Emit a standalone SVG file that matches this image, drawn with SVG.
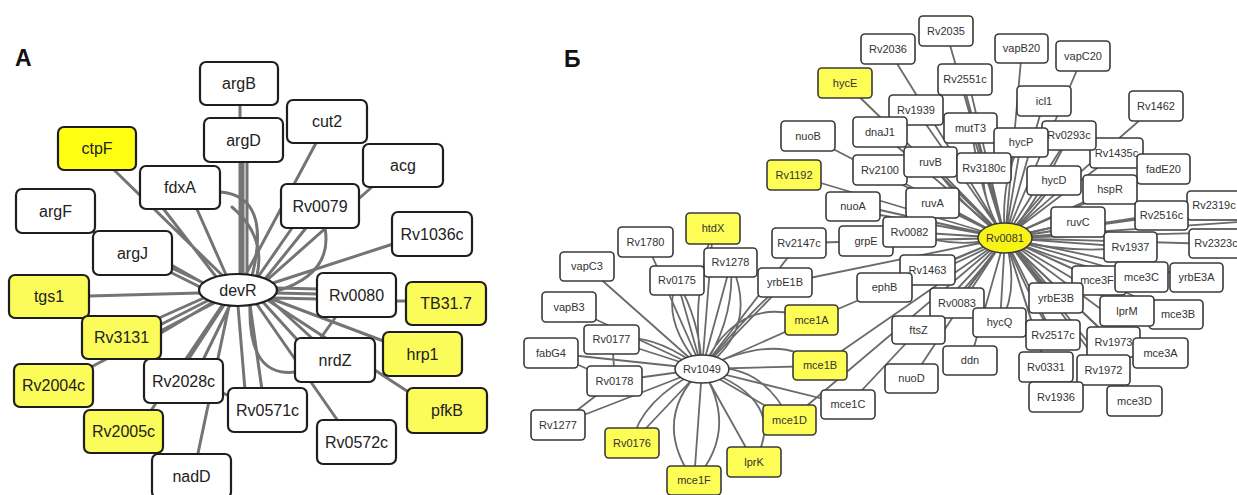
<svg xmlns="http://www.w3.org/2000/svg" width="1237" height="495" viewBox="0 0 1237 495">
<style>
  .bg { fill: #ffffff; }
  .ea { fill: none; stroke: #747474; stroke-width: 3; stroke-linecap: round; }
  .eb { fill: none; stroke: #6a6a6a; stroke-width: 1.8; stroke-linecap: round; }
  .na rect, .na ellipse { fill: #ffffff; stroke: #1e1e1e; stroke-width: 2.2; }
  .nb rect, .nb ellipse { fill: #ffffff; stroke: #3a3a3a; stroke-width: 1.6; }
  .na.y rect { fill: #fbfb5a; }
  .na.y2 rect { fill: #ffff14; }
  .nb.y rect, .nb.y ellipse { fill: #fdfd55; }
  .nb.y2 ellipse, .nb.y2 rect { fill: #f8f316; }
  .na text { font-family: "Liberation Sans", Arial, sans-serif; font-size: 16px; fill: #222; text-anchor: middle; }
  .nb text { font-family: "Liberation Sans", Arial, sans-serif; font-size: 11px; fill: #333; text-anchor: middle; }
  .lbl { font-family: "Liberation Sans", Arial, sans-serif; font-size: 23px; font-weight: bold; fill: #111; }
</style>
<rect class="bg" x="0" y="0" width="1237" height="495"/>

<text class="lbl" x="15" y="66">A</text>
<text class="lbl" x="564" y="67">Б</text>

<!-- panel A connectors -->
<g id="edges-a">
  <path class="ea" d="M240 105L240 276M243 162L243 274M247 162L247 275M112 168L226 279M162 207L217 278M196 207L227 277M92 231L206 284M166 262L203 283M170 272L202 288M89 296L199 293M150 322L206 297M156 327L209 300M161 333L213 302M93 366L218 301M150 412L223 304M188 360L224 305M203 360L230 305M197 458L229 306M245 390L238 306M262 390L250 305M302 345L262 301M314 340L268 298M338 421L256 303M386 342L272 299M410 393L269 301M318 289L277 288M318 294L276 293M318 299L274 298M396 301L406 301M393 244L273 283M292 228L258 277M306 228L265 279M372 187L266 281M316 143L245 276M335 318L320 339M223 393L229 396"/>
  <path class="ea" d="M220 192Q272 196 252 276M232 207Q266 236 257 275M325 228Q333 274 277 291M296 372Q248 378 250 306"/>
</g>

<!-- panel B connectors -->
<g id="edges-b">
  <path class="eb" d="M1005 238L946 31M1005 238L888 49M1005 238L845 83M1005 238L962 79M1005 238L968 79M1005 238L1022 49M1005 238L1083 56M1005 238L1044 101M1005 238L916 110M1005 238L880 132M1005 238L971 128M1005 238L808 136M1005 238L1156 106M1005 238L1117 153M1005 238L1069 136M1005 238L1021 143M1005 238L1164 169M1005 238L794 175M1005 238L880 170M1005 238L931 162M1005 238L984 168M1005 238L1054 181M1005 238L1110 190M1005 238L1214 206M1005 238L1162 216M1005 238L1078 222M1005 238L853 204M1005 238L853 210M1005 238L933 203M1005 238L866 241M1005 238L910 232M1005 238L799 243M1005 238L1131 247M1005 238L1216 244M1005 238L927 270M1005 238L785 283M1005 238L884 288M1005 238L1099 281M1005 238L1142 277M1005 238L1197 278M1005 238L1056 298M1005 238L957 303M1005 238L1127 311M1005 238L1176 315M1005 238L812 320M1005 238L919 330M1005 238L1000 323M1005 238L1053 335M1005 238L1114 342M1005 238L1160 353M1005 238L970 361M1005 238L820 366M1005 238L1046 367M1005 238L1104 370M1005 238L912 379M1005 238L1056 397M1005 238L1135 401M1005 238L848 405M1005 238L790 420M1005 238L1240 222M1005 238L1240 232"/>
  <path class="eb" d="M1005 238Q960 205 931 162M1005 238Q1045 200 1054 181M1005 238Q1050 285 1056 298M1005 238Q1070 255 1131 247M1005 238Q975 280 957 303M1005 238Q1000 180 1021 143M1005 238Q950 250 910 232M1005 238Q1030 300 1053 335M1005 238Q980 200 984 168M1005 238Q1040 230 1078 222M1005 238Q960 300 919 330M1005 238Q1070 300 1114 342M1005 238Q985 215 971 128M1005 238Q1030 215 1069 136M1005 238Q1080 270 1142 277M1005 238Q1020 290 1000 323M1005 238Q950 270 884 288"/>
  <path class="eb" d="M702 369L713 229M702 369L646 242M702 369L587 267M702 369L731 263M702 369L677 281M702 369L569 307M702 369L612 340M702 369L551 353M702 369L615 381M702 369L558 425M702 369L632 443M702 369L754 462M702 369L694 481M702 369L790 420M702 369L848 405M702 369L820 366M702 369L812 320M702 369L785 283M702 369L799 243M551 353L615 381M558 425L615 381M612 340L615 381"/>
  <path class="eb" d="M702 369Q660 320 677 281M702 369Q735 320 731 263M702 369Q690 300 713 229M702 369Q760 330 731 263M702 369Q650 420 694 481M702 369Q740 430 694 481M702 369Q790 400 754 462M702 369Q760 360 790 420M702 369Q640 400 632 443M702 369Q650 330 612 340M702 369Q700 320 677 281M702 369Q760 300 785 283M702 369Q780 330 820 366M702 369Q740 290 812 320"/>
</g>

<!-- panel A nodes -->
<g id="argB" class="na"><rect x="200" y="62" width="78" height="43" rx="6"/><text x="239" y="89">argB</text></g>
<g id="argD" class="na"><rect x="204" y="118" width="79" height="44" rx="6"/><text x="243.5" y="146">argD</text></g>
<g id="ctpF" class="na y2"><rect x="58" y="127" width="78" height="43" rx="6"/><text x="97" y="154">ctpF</text></g>
<g id="fdxA" class="na"><rect x="140" y="166" width="80" height="43" rx="6"/><text x="180" y="193">fdxA</text></g>
<g id="argF" class="na"><rect x="16" y="189" width="79" height="44" rx="6"/><text x="55.5" y="217">argF</text></g>
<g id="argJ" class="na"><rect x="93" y="231" width="79" height="44" rx="6"/><text x="132.5" y="259">argJ</text></g>
<g id="cut2" class="na"><rect x="287" y="100" width="80" height="43" rx="6"/><text x="327" y="127">cut2</text></g>
<g id="acg" class="na"><rect x="363" y="144" width="80" height="43" rx="6"/><text x="403" y="171">acg</text></g>
<g id="Rv0079" class="na"><rect x="281" y="184" width="78" height="44" rx="6"/><text x="320" y="212">Rv0079</text></g>
<g id="Rv1036c" class="na"><rect x="392" y="212" width="80" height="44" rx="6"/><text x="432" y="240">Rv1036c</text></g>
<g id="tgs1" class="na y"><rect x="9" y="275" width="80" height="43" rx="6"/><text x="49" y="302">tgs1</text></g>
<g id="Rv3131" class="na y"><rect x="82" y="316" width="79" height="43" rx="6"/><text x="121.5" y="343">Rv3131</text></g>
<g id="Rv2004c" class="na y"><rect x="14" y="364" width="79" height="43" rx="6"/><text x="53.5" y="391">Rv2004c</text></g>
<g id="Rv2028c" class="na"><rect x="144" y="359" width="79" height="44" rx="6"/><text x="183.5" y="387">Rv2028c</text></g>
<g id="Rv2005c" class="na y"><rect x="84" y="410" width="79" height="43" rx="6"/><text x="123.5" y="437">Rv2005c</text></g>
<g id="nadD" class="na"><rect x="152" y="454" width="79" height="44" rx="6"/><text x="191.5" y="482">nadD</text></g>
<g id="Rv0571c" class="na"><rect x="228" y="388" width="79" height="44" rx="6"/><text x="267.5" y="416">Rv0571c</text></g>
<g id="Rv0080" class="na"><rect x="317" y="273" width="79" height="44" rx="6"/><text x="356.5" y="301">Rv0080</text></g>
<g id="TB31.7" class="na y"><rect x="406" y="282" width="80" height="43" rx="6"/><text x="446" y="309">TB31.7</text></g>
<g id="nrdZ" class="na"><rect x="295" y="338" width="80" height="44" rx="6"/><text x="335" y="366">nrdZ</text></g>
<g id="hrp1" class="na y"><rect x="383" y="332" width="79" height="44" rx="6"/><text x="422.5" y="360">hrp1</text></g>
<g id="pfkB" class="na y"><rect x="407" y="388" width="80" height="45" rx="6"/><text x="447" y="416">pfkB</text></g>
<g id="Rv0572c" class="na"><rect x="317" y="420" width="79" height="44" rx="6"/><text x="356.5" y="448">Rv0572c</text></g>
<g id="devR" class="na"><ellipse cx="238" cy="290" rx="39" ry="16"/><text x="238" y="296">devR</text></g>

<!-- panel B nodes -->
<g id="Rv2035" class="nb"><rect x="919" y="16" width="54" height="30" rx="4"/><text x="946" y="35">Rv2035</text></g>
<g id="Rv2036" class="nb"><rect x="861" y="34" width="54" height="30" rx="4"/><text x="888" y="53">Rv2036</text></g>
<g id="hycE" class="nb y"><rect x="818" y="68" width="54" height="30" rx="4"/><text x="845" y="87">hycE</text></g>
<g id="Rv2551c" class="nb"><rect x="938" y="64" width="54" height="31" rx="4"/><text x="965" y="83">Rv2551c</text></g>
<g id="vapB20" class="nb"><rect x="995" y="34" width="53" height="29" rx="4"/><text x="1021.5" y="52">vapB20</text></g>
<g id="vapC20" class="nb"><rect x="1056" y="41" width="54" height="30" rx="4"/><text x="1083" y="60">vapC20</text></g>
<g id="icl1" class="nb"><rect x="1017" y="86" width="54" height="30" rx="4"/><text x="1044" y="105">icl1</text></g>
<g id="Rv1939" class="nb"><rect x="889" y="95" width="54" height="30" rx="4"/><text x="916" y="114">Rv1939</text></g>
<g id="dnaJ1" class="nb"><rect x="853" y="117" width="54" height="30" rx="4"/><text x="880" y="136">dnaJ1</text></g>
<g id="mutT3" class="nb"><rect x="944" y="113" width="53" height="30" rx="4"/><text x="970.5" y="132">mutT3</text></g>
<g id="nuoB" class="nb"><rect x="781" y="121" width="54" height="30" rx="4"/><text x="808" y="140">nuoB</text></g>
<g id="Rv1462" class="nb"><rect x="1129" y="91" width="54" height="30" rx="4"/><text x="1156" y="110">Rv1462</text></g>
<g id="Rv1435c" class="nb"><rect x="1090" y="138" width="53" height="30" rx="4"/><text x="1116.5" y="157">Rv1435c</text></g>
<g id="Rv0293c" class="nb"><rect x="1042" y="121" width="54" height="29" rx="4"/><text x="1069" y="139">Rv0293c</text></g>
<g id="hycP" class="nb"><rect x="994" y="128" width="54" height="29" rx="4"/><text x="1021" y="146">hycP</text></g>
<g id="fadE20" class="nb"><rect x="1137" y="154" width="53" height="30" rx="4"/><text x="1163.5" y="173">fadE20</text></g>
<g id="Rv1192" class="nb y"><rect x="767" y="160" width="54" height="30" rx="4"/><text x="794" y="179">Rv1192</text></g>
<g id="Rv2100" class="nb"><rect x="853" y="155" width="54" height="30" rx="4"/><text x="880" y="174">Rv2100</text></g>
<g id="ruvB" class="nb"><rect x="904" y="147" width="53" height="30" rx="4"/><text x="930.5" y="166">ruvB</text></g>
<g id="Rv3180c" class="nb"><rect x="957" y="153" width="54" height="30" rx="4"/><text x="984" y="172">Rv3180c</text></g>
<g id="hycD" class="nb"><rect x="1027" y="166" width="54" height="29" rx="4"/><text x="1054" y="184">hycD</text></g>
<g id="hspR" class="nb"><rect x="1083" y="175" width="54" height="29" rx="4"/><text x="1110" y="193">hspR</text></g>
<g id="Rv2319c" class="nb"><rect x="1187" y="191" width="54" height="29" rx="4"/><text x="1214" y="209">Rv2319c</text></g>
<g id="Rv2516c" class="nb"><rect x="1135" y="201" width="53" height="29" rx="4"/><text x="1161.5" y="219">Rv2516c</text></g>
<g id="ruvC" class="nb"><rect x="1051" y="207" width="54" height="30" rx="4"/><text x="1078" y="226">ruvC</text></g>
<g id="nuoA" class="nb"><rect x="826" y="192" width="54" height="29" rx="4"/><text x="853" y="210">nuoA</text></g>
<g id="ruvA" class="nb"><rect x="906" y="188" width="53" height="30" rx="4"/><text x="932.5" y="207">ruvA</text></g>
<g id="grpE" class="nb"><rect x="839" y="226" width="54" height="30" rx="4"/><text x="866" y="245">grpE</text></g>
<g id="Rv0082" class="nb"><rect x="883" y="217" width="53" height="30" rx="4"/><text x="909.5" y="236">Rv0082</text></g>
<g id="Rv2147c" class="nb"><rect x="772" y="228" width="54" height="30" rx="4"/><text x="799" y="247">Rv2147c</text></g>
<g id="Rv1937" class="nb"><rect x="1104" y="232" width="53" height="30" rx="4"/><text x="1130.5" y="251">Rv1937</text></g>
<g id="Rv2323c" class="nb"><rect x="1189" y="229" width="54" height="29" rx="4"/><text x="1216" y="247">Rv2323c</text></g>
<g id="Rv1463" class="nb"><rect x="900" y="255" width="55" height="30" rx="4"/><text x="927.5" y="274">Rv1463</text></g>
<g id="yrbE1B" class="nb"><rect x="758" y="268" width="54" height="29" rx="4"/><text x="785" y="286">yrbE1B</text></g>
<g id="ephB" class="nb"><rect x="857" y="273" width="55" height="29" rx="4"/><text x="884.5" y="291">ephB</text></g>
<g id="mce3F" class="nb"><rect x="1072" y="266" width="54" height="29" rx="4"/><text x="1097" y="284">mce3F</text></g>
<g id="mce3C" class="nb"><rect x="1115" y="262" width="53" height="30" rx="4"/><text x="1141.5" y="281">mce3C</text></g>
<g id="yrbE3A" class="nb"><rect x="1170" y="263" width="53" height="29" rx="4"/><text x="1196.5" y="281">yrbE3A</text></g>
<g id="yrbE3B" class="nb"><rect x="1029" y="283" width="54" height="30" rx="4"/><text x="1056" y="302">yrbE3B</text></g>
<g id="Rv0083" class="nb"><rect x="930" y="288" width="54" height="30" rx="4"/><text x="957" y="307">Rv0083</text></g>
<g id="mce3B" class="nb"><rect x="1149" y="300" width="54" height="29" rx="4"/><text x="1178" y="318">mce3B</text></g>
<g id="lprM" class="nb"><rect x="1100" y="296" width="54" height="30" rx="4"/><text x="1127" y="315">lprM</text></g>
<g id="mce1A" class="nb y"><rect x="785" y="305" width="53" height="30" rx="4"/><text x="811.5" y="324">mce1A</text></g>
<g id="ftsZ" class="nb"><rect x="892" y="316" width="53" height="28" rx="4"/><text x="918.5" y="334">ftsZ</text></g>
<g id="hycQ" class="nb"><rect x="973" y="308" width="53" height="29" rx="4"/><text x="999.5" y="326">hycQ</text></g>
<g id="Rv2517c" class="nb"><rect x="1026" y="320" width="54" height="30" rx="4"/><text x="1053" y="339">Rv2517c</text></g>
<g id="Rv1973" class="nb"><rect x="1087" y="327" width="53" height="30" rx="4"/><text x="1113.5" y="346">Rv1973</text></g>
<g id="mce3A" class="nb"><rect x="1133" y="338" width="55" height="30" rx="4"/><text x="1160.5" y="357">mce3A</text></g>
<g id="ddn" class="nb"><rect x="943" y="346" width="54" height="29" rx="4"/><text x="970" y="364">ddn</text></g>
<g id="mce1B" class="nb y"><rect x="793" y="351" width="54" height="29" rx="4"/><text x="820" y="369">mce1B</text></g>
<g id="Rv0331" class="nb"><rect x="1019" y="352" width="54" height="30" rx="4"/><text x="1046" y="371">Rv0331</text></g>
<g id="Rv1972" class="nb"><rect x="1077" y="355" width="53" height="30" rx="4"/><text x="1103.5" y="374">Rv1972</text></g>
<g id="nuoD" class="nb"><rect x="885" y="364" width="53" height="29" rx="4"/><text x="911.5" y="382">nuoD</text></g>
<g id="Rv1936" class="nb"><rect x="1029" y="382" width="54" height="30" rx="4"/><text x="1056" y="401">Rv1936</text></g>
<g id="mce3D" class="nb"><rect x="1107" y="386" width="55" height="30" rx="4"/><text x="1134.5" y="405">mce3D</text></g>
<g id="mce1C" class="nb"><rect x="821" y="390" width="54" height="29" rx="4"/><text x="848" y="408">mce1C</text></g>
<g id="mce1D" class="nb y"><rect x="763" y="405" width="53" height="30" rx="4"/><text x="789.5" y="424">mce1D</text></g>
<g id="htdX" class="nb y"><rect x="686" y="213" width="54" height="31" rx="4"/><text x="713" y="232">htdX</text></g>
<g id="Rv1780" class="nb"><rect x="618" y="227" width="55" height="30" rx="4"/><text x="645.5" y="246">Rv1780</text></g>
<g id="vapC3" class="nb"><rect x="560" y="252" width="54" height="29" rx="4"/><text x="587" y="270">vapC3</text></g>
<g id="Rv1278" class="nb"><rect x="704" y="248" width="53" height="29" rx="4"/><text x="730.5" y="266">Rv1278</text></g>
<g id="Rv0175" class="nb"><rect x="650" y="266" width="54" height="29" rx="4"/><text x="677" y="284">Rv0175</text></g>
<g id="vapB3" class="nb"><rect x="542" y="292" width="54" height="30" rx="4"/><text x="569" y="311">vapB3</text></g>
<g id="Rv0177" class="nb"><rect x="584" y="325" width="55" height="29" rx="4"/><text x="611.5" y="343">Rv0177</text></g>
<g id="fabG4" class="nb"><rect x="524" y="338" width="54" height="30" rx="4"/><text x="551" y="357">fabG4</text></g>
<g id="Rv0178" class="nb"><rect x="587" y="366" width="55" height="30" rx="4"/><text x="614.5" y="385">Rv0178</text></g>
<g id="Rv1277" class="nb"><rect x="531" y="410" width="54" height="30" rx="4"/><text x="558" y="429">Rv1277</text></g>
<g id="Rv0176" class="nb y"><rect x="605" y="428" width="54" height="30" rx="4"/><text x="632" y="447">Rv0176</text></g>
<g id="lprK" class="nb y"><rect x="727" y="447" width="54" height="30" rx="4"/><text x="754" y="466">lprK</text></g>
<g id="mce1F" class="nb y"><rect x="667" y="466" width="54" height="29" rx="4"/><text x="694" y="484">mce1F</text></g>
<g id="Rv1049" class="nb"><ellipse cx="702" cy="369" rx="27" ry="14"/><text x="702" y="373">Rv1049</text></g>
<g id="Rv0081" class="nb y2"><ellipse cx="1005" cy="238" rx="27" ry="15"/><text x="1005" y="242">Rv0081</text></g>
</svg>
